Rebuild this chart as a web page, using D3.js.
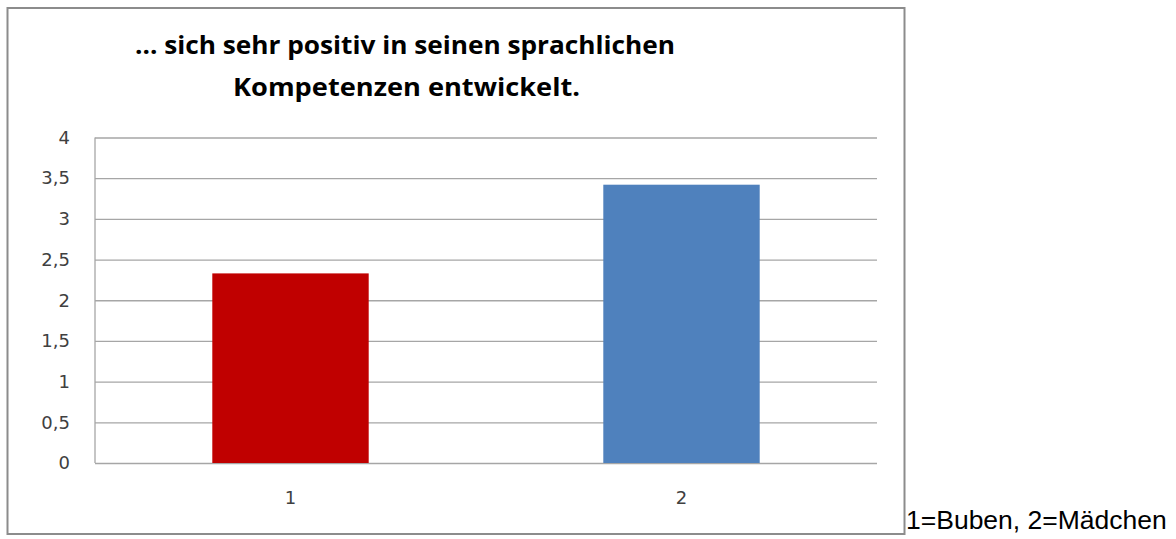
<!DOCTYPE html>
<html>
<head>
<meta charset="utf-8">
<script src="https://cdn.jsdelivr.net/npm/d3@7"></script>
<style>
  body { margin: 0; background: #fff; }
  svg { display: block; }
  .tick text { font-family: "DejaVu Sans", Verdana, sans-serif; font-size: 18px; fill: #404040; }
</style>
</head>
<body>
<svg id="chart"></svg>
<script>
// data
const categories = ['1', '2'];
const values = [2.33, 3.42];
const barColors = ['#c00000', '#4f81bd'];
const yTicks = [0, 0.5, 1, 1.5, 2, 2.5, 3, 3.5, 4];
const titleLines = ['... sich sehr positiv in seinen sprachlichen', 'Kompetenzen entwickelt.'];
const note = '1=Buben, 2=Mädchen';

const W = 1176, H = 539;
const margin = {top: 137.5, right: 299, bottom: 76, left: 95};
const width = W - margin.left - margin.right;
const height = H - margin.top - margin.bottom;

const svg = d3.select('#chart')
    .attr('width', W)
    .attr('height', H);

// outer frame of the chart object
svg.append('rect')
    .attr('x', 7.5)
    .attr('y', 8)
    .attr('width', 897)
    .attr('height', 526)
    .attr('fill', '#fff')
    .attr('stroke', '#8c8c8c')
    .attr('stroke-width', 2);

// title, squeezed like the original condensed font
svg.append('text')
    .attr('x', 135)
    .attr('y', 54)
    .attr('textLength', 540)
    .attr('lengthAdjust', 'spacingAndGlyphs')
    .style('font-family', '"Open Sans", sans-serif')
    .style('font-weight', 'bold')
    .style('font-size', '25px')
    .text(titleLines[0]);

svg.append('text')
    .attr('x', 233)
    .attr('y', 96)
    .attr('textLength', 347)
    .attr('lengthAdjust', 'spacingAndGlyphs')
    .style('font-family', '"Open Sans", sans-serif')
    .style('font-weight', 'bold')
    .style('font-size', '25px')
    .text(titleLines[1]);

const chart = svg.append('g')
    .attr('transform', `translate(${margin.left},${margin.top})`);

const xScale = d3.scaleBand()
    .domain(categories)
    .range([0, width])
    .paddingInner(0.6)
    .paddingOuter(0.3);

const yScale = d3.scaleLinear()
    .domain([0, 4])
    .range([height, 0]);

const yAxis = d3.axisLeft(yScale)
    .tickValues(yTicks)
    .tickFormat(d => String(d).replace('.', ','))
    .tickSize(-width)
    .tickPadding(25);

chart.append('g')
    .attr('class', 'axis y-axis')
    .call(yAxis)
    .call(g => g.select('.domain').remove())
    .call(g => g.selectAll('.tick line').attr('stroke', '#a6a6a6').attr('stroke-width', 1.3));

// left axis line
chart.append('line')
    .attr('x1', 0).attr('x2', 0)
    .attr('y1', 0).attr('y2', height)
    .attr('stroke', '#a6a6a6')
    .attr('stroke-width', 1.3);

chart.selectAll('.bar')
    .data(values)
    .enter()
  .append('rect')
    .attr('class', 'bar')
    .attr('x', (d, i) => xScale(categories[i]))
    .attr('y', d => yScale(d))
    .attr('width', xScale.bandwidth())
    .attr('height', d => height - yScale(d))
    .attr('fill', (d, i) => barColors[i]);

const xAxis = d3.axisBottom(xScale)
    .tickSize(0)
    .tickPadding(28);

chart.append('g')
    .attr('class', 'axis x-axis')
    .attr('transform', `translate(0,${height})`)
    .call(xAxis)
    .call(g => g.select('.domain').remove());

svg.append('text')
    .attr('x', 906)
    .attr('y', 529)
    .style('font-family', '"Liberation Sans", Arial, sans-serif')
    .style('font-size', '26.5px')
    .style('fill', '#000')
    .text(note);
</script>
</body>
</html>
